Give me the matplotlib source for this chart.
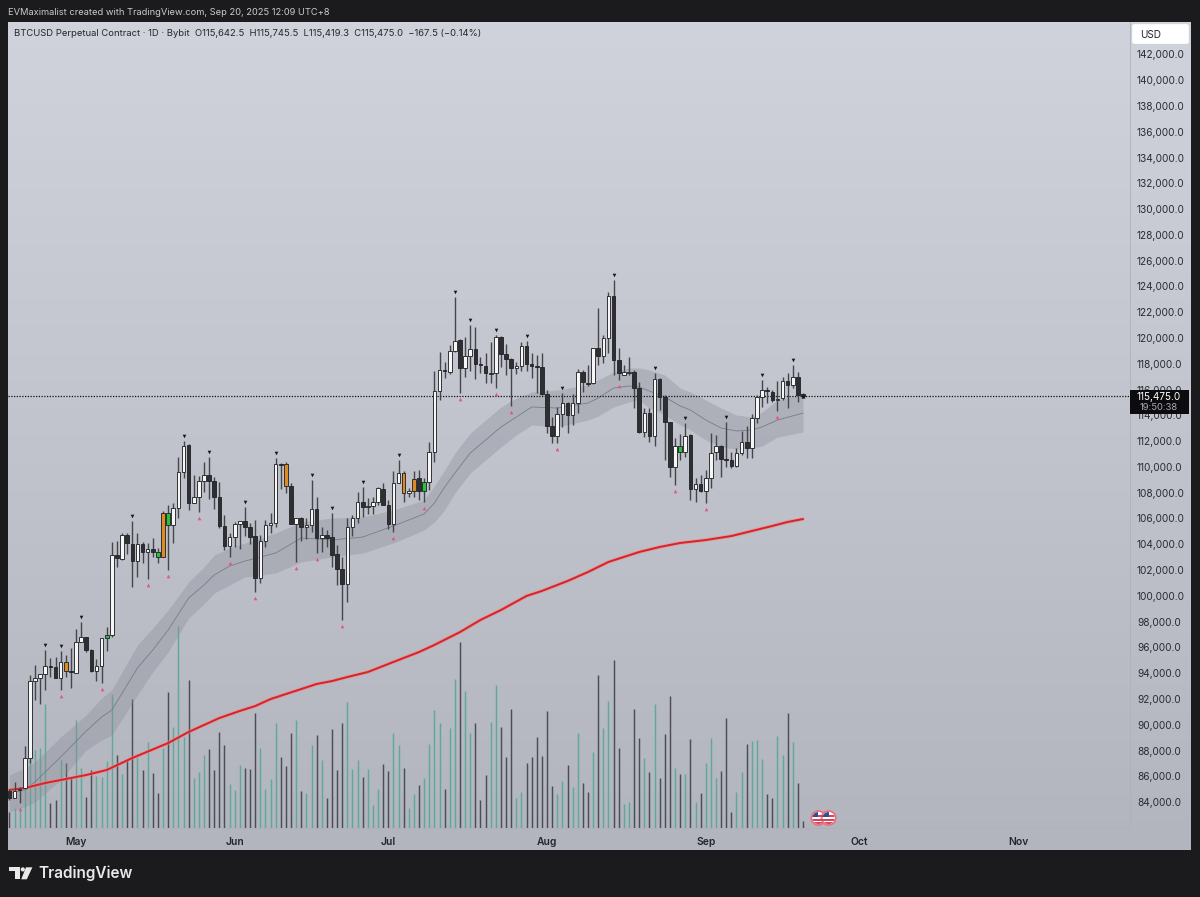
"""BTCUSD perpetual daily chart with volume, EMA band and 200 line (TradingView look)."""
import numpy as np
import matplotlib
matplotlib.use("Agg")
import matplotlib.pyplot as plt
from matplotlib.patches import Circle, Polygon, Rectangle, FancyBboxPatch

plt.rcParams["font.family"] = ["Inter", "Roboto", "DejaVu Sans"]

# day index 0 = May 1 2025, bars run Apr 18 .. Sep 20
first_day = -13

opens = [
    84860, 84350, 84950, 85070, 87400, 93400, 93650, 93900, 94590, 94500, 93650, 94900, 94170,
    94040, 96400, 96790, 95800, 94170, 94590, 96700, 96950, 103170, 102860, 104720, 104030, 102710,
    104000, 103430, 103660, 103380, 103040, 106400, 105500, 106790, 109590, 111700, 107230, 107700,
    108940, 109380, 108910, 107700, 105420, 103900, 104540, 105570, 105810, 105370, 104650, 101410,
    104280, 105500, 105680, 110200, 110200, 108550, 105570, 106020, 105320, 105500, 106720, 104460,
    104750, 104600, 103220, 102060, 100890, 105320, 106020, 107260, 106900, 106950, 107260, 108290,
    107050, 105580, 108780, 109510, 107950, 108130, 109120, 108130, 108860, 111190, 115920, 117530,
    117400, 119020, 119850, 117700, 118610, 119180, 117960, 117840, 117230, 117320, 120060, 118770,
    118350, 117650, 117860, 119380, 118010, 117840, 117730, 115660, 113180, 112430, 114110, 114950,
    114030, 114940, 117390, 116540, 116490, 119200, 118630, 120030, 123290, 118300, 117130, 117320,
    117390, 116150, 112740, 114160, 112400, 116820, 115400, 113460, 110020, 111630, 111140, 112480,
    108290, 108680, 108160, 109120, 111140, 111630, 110600, 110540, 110100, 111060, 111960, 111450,
    113820, 115460, 115970, 115840, 115200, 115330, 116700, 116360, 117000, 115642.5,
]
highs = [
    85000, 85540, 85200, 88380, 93860, 94640, 93950, 95800, 95150, 95230, 95720, 95420, 95930,
    97400, 97980, 96800, 95850, 95080, 96700, 97600, 104200, 104290, 104900, 104850, 105830, 104850,
    104200, 104130, 104460, 103690, 106610, 107050, 107230, 110750, 112040, 111760, 109380, 109300,
    110410, 110800, 109200, 108860, 106270, 104850, 105760, 105810, 106870, 105680, 105890, 104720,
    105890, 106400, 110670, 110330, 110410, 108730, 106020, 106100, 106070, 108990, 107700, 105370,
    105110, 106400, 103950, 103040, 106020, 106270, 108080, 108470, 107620, 107700, 108470, 108730,
    107440, 109710, 110540, 109690, 108340, 109710, 109770, 109120, 111960, 117470, 118890, 118170,
    119460, 123160, 119900, 120110, 121010, 120890, 118560, 118870, 119720, 120240, 120160, 119540,
    118430, 118170, 119720, 119800, 118820, 118690, 118820, 115970, 113900, 114680, 115700, 115050,
    115660, 117570, 117520, 117910, 119200, 122310, 120240, 123600, 124500, 119200, 117910, 118560,
    117520, 116620, 114550, 114550, 117260, 116880, 115580, 113460, 112220, 112560, 113440, 112530,
    109120, 109380, 109770, 112610, 112480, 111700, 113520, 111190, 111450, 112790, 113200, 114110,
    115580, 116750, 116230, 115970, 116700, 116960, 117260, 117910, 117390, 115745.5,
]
lows = [
    84200, 84300, 83900, 85000, 87000, 91920, 91600, 92700, 93730, 93600, 92700, 93730, 92880,
    94000, 96400, 95670, 94120, 93400, 93220, 95720, 96840, 102220, 102780, 103220, 100720, 101490,
    102530, 101330, 103040, 102530, 103040, 102010, 104130, 106020, 109120, 106660, 107180, 106530,
    108090, 107490, 106710, 105240, 103560, 102990, 103770, 103610, 104650, 104030, 100330, 101030,
    103820, 104850, 105320, 108270, 108000, 105570, 102650, 104280, 104390, 104980, 103300, 103430,
    103820, 102270, 100840, 98130, 99550, 104640, 105630, 106140, 106330, 106350, 107050, 107050,
    105160, 104980, 108730, 107260, 107700, 107700, 107440, 107310, 108210, 110410, 115200, 116880,
    117210, 118950, 115710, 117010, 117450, 116850, 117270, 116490, 116490, 116150, 117780, 117140,
    114760, 117190, 117450, 117450, 116880, 115710, 115580, 112610, 111890, 111840, 113120, 112610,
    113260, 114210, 115840, 116280, 116440, 117910, 118040, 118820, 117130, 116750, 117130, 117130,
    114600, 112610, 112350, 111960, 111630, 114420, 110540, 109250, 108600, 110540, 110800, 107440,
    107310, 108080, 107180, 108340, 110540, 109250, 110020, 109890, 110020, 110930, 110670, 110670,
    113380, 114680, 114990, 115070, 114370, 115200, 114600, 116100, 115070, 115419.3,
]
closes = [
    84350, 84870, 85050, 87400, 93400, 93600, 93900, 94590, 94500, 93650, 94900, 94170, 94100,
    96400, 96780, 95800, 94170, 94590, 96700, 96950, 103170, 102900, 104720, 104080, 102710, 104030,
    103430, 103660, 103380, 103040, 106400, 105500, 106790, 109590, 111650, 107230, 107700, 108940,
    109380, 108910, 107700, 105420, 103900, 104540, 105570, 105810, 105370, 104590, 101410, 104280,
    105500, 105680, 110200, 110150, 108550, 105570, 106020, 105370, 105500, 106720, 104460, 104750,
    104520, 103170, 102060, 100890, 105320, 106020, 107260, 106920, 106950, 107260, 108340, 107050,
    105580, 108780, 109510, 107950, 108130, 109070, 108130, 108860, 111190, 115920, 117520, 117470,
    119020, 119800, 117700, 118610, 119180, 117960, 117900, 117270, 117320, 120060, 118740, 118350,
    117650, 117860, 119380, 118010, 117840, 117740, 115660, 113180, 112430, 114110, 114940, 114030,
    114940, 117390, 116620, 116410, 119200, 118630, 120030, 123290, 118300, 117320, 117390, 117370,
    116150, 112740, 114160, 112400, 116800, 115400, 113460, 110020, 111630, 111140, 112430, 108290,
    108680, 108160, 109120, 111110, 111630, 110590, 110540, 110100, 111060, 111960, 111450, 113820,
    115460, 115970, 115900, 115200, 115250, 116700, 116360, 117000, 115580, 115475.0,
]
volumes = [
    49, 59, 59, 120, 204, 234, 239, 372, 74, 84, 204, 196, 149,
    324, 179, 94, 174, 156, 152, 202, 402, 219, 162, 204, 387, 214,
    174, 259, 164, 104, 239, 408, 304, 606, 274, 444, 151, 169,
    219, 236, 174, 288, 249, 132, 114, 189, 179, 176, 346, 239,
    117, 146, 316, 214, 187, 284, 324, 112, 106, 249, 279, 204,
    89, 296, 174, 316, 379, 176, 204, 154, 177, 69, 117, 192,
    172, 284, 249, 179, 59, 102, 129, 149, 252, 354, 314, 116,
    299, 447, 559, 412, 286, 314, 84, 159, 317, 429, 304, 212,
    356, 89, 107, 196, 214, 274, 217, 352, 127, 102, 142, 189,
    122, 284, 136, 109, 227, 459, 299, 381, 504, 239, 71, 79,
    356, 271, 209, 169, 371, 149, 281, 396, 181, 162, 162, 268,
    79, 106, 196, 269, 151, 172, 329, 49, 108, 168, 252, 262,
    264, 208, 102, 89, 276, 220, 344, 257, 134, 21,
]

orange_days = [-2, 17, 41, 64, 66]
green_days = [6, 16, 18, 68, 118]
swing_high_days = [-6, -3, 1, 11, 21, 26, 33, 39, 46, 50, 56, 63, 74, 77, 82, 88, 95, 105, 113, 119, 127, 134, 140]
swing_low_days = [-11, -3, 5, 14, 18, 24, 30, 35, 43, 47, 52, 62, 68, 75, 82, 85, 94, 106, 117, 123, 137]
event_days = [145, 147]

band_days = [-13, -10, -8, -3, 2, 5, 7, 12, 15, 18, 22, 25, 27, 30, 33, 39, 44, 50, 56, 62, 68, 70, 72,
             74, 77, 80, 83, 86, 89, 94, 100, 102, 105, 108, 110, 112, 115, 118, 120, 123, 126, 129, 132, 134, 137, 142]
band_mid = [84700, 84940, 85560, 87500, 89510, 90600, 91140, 94400, 95800, 97350, 99830, 100840, 101620, 102310, 102700,
            103320, 104490, 104330, 104560, 105420, 106350, 107200, 108440, 109530, 111080, 112090, 113100, 113870,
            114650, 114570, 114960, 115350, 116120, 116280, 116200, 115890, 115430, 114730, 114420, 113640, 113020,
            112790, 112870, 113100, 113640, 114180]
band_upper = [86100, 86640, 87110, 89050, 90760, 92070, 92700, 96190, 97500, 98900, 101070, 102240, 103170, 103710, 104100,
              104880, 105730, 106040, 106120, 106660, 107440, 108520, 109760, 111080, 112630, 113640, 114650, 115350,
              115810, 115970, 116360, 116750, 117370, 117680, 117680, 117520, 117130, 116120, 115810, 115190, 114570,
              114030, 113870, 114260, 115190, 115740]
band_lower = [83230, 83620, 84010, 85710, 88040, 88820, 89200, 92310, 94090, 95640, 98280, 99370, 100220, 100840, 101460,
              101770, 102630, 103010, 103320, 104100, 105110, 105730, 106660, 107980, 109530, 110540, 111550, 112480,
              113250, 113100, 113640, 113950, 114650, 115040, 115190, 114570, 114030, 113250, 112870, 112090, 111550,
              111390, 111470, 111620, 112320, 112710]

ema_days = [-13, -10, -6, -2, 2, 6, 11, 18, 22, 25, 28, 32, 35, 38, 41, 44, 47, 50, 53, 57, 62, 67, 70, 75, 79, 83,
            88, 91, 96, 100, 104, 110, 114, 118, 123, 128, 132, 136, 139, 142]
ema_values = [84940, 85090, 85480, 85790, 86100, 86490, 87420, 88580, 89440, 89980, 90520, 91070, 91450, 91990, 92380,
              92770, 93160, 93390, 93700, 94090, 94870, 95640, 96190, 97190, 98130, 98900, 99990, 100380, 101150, 101850,
              102630, 103400, 103790, 104100, 104330, 104640, 105030, 105420, 105730, 105960]

month_days = [0, 31, 61, 92, 123, 153, 184]
month_labels = ["May", "Jun", "Jul", "Aug", "Sep", "Oct", "Nov"]
price_ticks = list(range(84000, 142001, 2000))

assert len(opens) == len(highs) == len(lows) == len(closes) == len(volumes) == 156

days = np.arange(first_day, first_day + len(opens))
opens_a, highs_a, lows_a, closes_a = map(np.array, (opens, highs, lows, closes))
volumes_a = np.array(volumes)
up = closes_a >= opens_a

W, H = 1200, 897
DARK_BG = "#1b1b1d"


def px_rect(x0, y0, x1, y1):
    return [x0 / W, 1 - y1 / H, (x1 - x0) / W, (y1 - y0) / H]


fig = plt.figure(figsize=(W / 100, H / 100), dpi=100, facecolor=DARK_BG)

# panel with the soft vertical gradient, covers price scale and date scale too
ax_bg = fig.add_axes(px_rect(8, 22, 1191, 850), zorder=0)
grad_top = np.array([208, 211, 219])
grad_bottom = np.array([178, 181, 190])
grad = np.linspace(0, 1, 256)[:, None, None] * (grad_bottom - grad_top) + grad_top
ax_bg.imshow(grad / 255, aspect="auto", extent=(0, 1, 0, 1))
ax_bg.axis("off")

XLIM = (-13.28, 205.86)
YLIM = (81989, 144518)

ax_vol = fig.add_axes(px_rect(8, 22, 1130, 828), zorder=1)
ax_vol.patch.set_alpha(0)
ax_vol.axis("off")
ax_vol.set_xlim(*XLIM)
ax_vol.set_ylim(0, 2418)
ax_vol.vlines(days, 0, volumes_a, colors=np.where(up, "#5fa99b", "#4b4d57"), linewidth=1.05)

ax = fig.add_axes(px_rect(8, 22, 1130, 828), zorder=2)
ax.patch.set_alpha(0)
ax.set_xlim(*XLIM)
ax.set_ylim(*YLIM)

ax.fill_between(band_days, band_lower, band_upper, color="#8b8d98", alpha=0.36, linewidth=0, zorder=1)
ax.plot(band_days, band_mid, color="#7b7d86", linewidth=0.6, zorder=1.5)

ax.plot(ema_days, ema_values, color="#f08a8a", linewidth=2.8, alpha=0.55, zorder=2, solid_capstyle="round")
ax.plot(ema_days, ema_values, color="#d8232a", linewidth=1.45, zorder=2.1, solid_capstyle="round")

ax.axhline(closes[-1], color="#111111", linewidth=0.9, linestyle=(0, (1, 1.2)), zorder=2.5)

body_colors = []
for d, is_up in zip(days, up):
    if d in orange_days:
        body_colors.append("#e08a22")
    elif d in green_days:
        body_colors.append("#25c43a")
    else:
        body_colors.append("#f6f6f6" if is_up else "#2e2f33")

ax.vlines(days, lows_a, highs_a, colors="#45464b", linewidth=1.0, zorder=3)
ax.bar(days, np.abs(closes_a - opens_a), bottom=np.minimum(opens_a, closes_a), width=0.7,
       color=body_colors, edgecolor="#26272b", linewidth=0.65, zorder=4)

hi_idx = np.array(swing_high_days) - first_day
lo_idx = np.array(swing_low_days) - first_day
ax.plot(swing_high_days, highs_a[hi_idx] + 390, linestyle="none", marker="v", markersize=2.6,
        markeredgewidth=0, color="#15151a", zorder=5)
ax.plot(swing_low_days, lows_a[lo_idx] - 465, linestyle="none", marker="^", markersize=2.6,
        markeredgewidth=0, color="#e4557f", zorder=5)
# little dark arrow next to the last bar
ax.plot([days[-1]], [closes[-1] + 60], linestyle="none", marker="^", markersize=3,
        markeredgewidth=0, color="#15151a", zorder=5)

for spine in ("top", "left"):
    ax.spines[spine].set_visible(False)
ax.spines["right"].set_color("#aeb0ba")
ax.spines["right"].set_linewidth(0.6)
ax.spines["bottom"].set_color("#aeb0ba")
ax.spines["bottom"].set_linewidth(0.6)

ax.yaxis.tick_right()
ax.set_yticks(price_ticks)
ax.set_yticklabels([f"{p:,.1f}" for p in price_ticks])
ax.tick_params(axis="y", length=0, pad=5, labelsize=7.3, labelcolor="#2b2c31")
ax.set_xticks(month_days)
ax.set_xticklabels(month_labels, fontweight="semibold")
ax.tick_params(axis="x", length=0, pad=6.3, labelsize=7.4, labelcolor="#24252a")

# overlay in pixel coordinates for the chrome around the chart
ov = fig.add_axes([0, 0, 1, 1], zorder=5)
ov.set_xlim(0, W)
ov.set_ylim(H, 0)
ov.axis("off")
ov.patch.set_alpha(0)

ov.text(8, 12.5, "EVMaximalist created with TradingView.com, Sep 20, 2025 12:09 UTC+8",
        color="#c9cad0", fontsize=6.7, va="center")
ov.text(14, 33.5, "BTCUSD Perpetual Contract · 1D · Bybit", color="#26272c", fontsize=6.8, va="center")
ov.text(195, 33.5, "O115,642.5  H115,745.5  L115,419.3  C115,475.0  −167.5 (−0.14%)",
        color="#26272c", fontsize=6.8, va="center")

ov.add_patch(FancyBboxPatch((1132.5, 24.5), 56, 19, boxstyle="round,pad=0,rounding_size=2", fc="white", ec="white", lw=0.5))
ov.text(1140, 34.5, "USD", color="#26272c", fontsize=7.2, va="center")

# last price label
ov.add_patch(Rectangle((1130, 390), 59, 24, fc="#0c0c0e", ec="none"))
ov.text(1159, 396.8, f"{closes[-1]:,.1f}", color="white", fontsize=7.2, ha="center", va="center")
ov.text(1159, 408, "19:50:38", color="#a9aab0", fontsize=6.8, ha="center", va="center")


def day_to_px(d):
    return 8 + (d - XLIM[0]) / (XLIM[1] - XLIM[0]) * 1122


# news flags near the bottom of the chart
for d in event_days:
    cx, cy, r = day_to_px(d), 818, 7
    ring = Circle((cx, cy), r, fc="white", ec="#e8707f", lw=1.3, zorder=6)
    ov.add_patch(ring)
    clip = Circle((cx, cy), r - 1, transform=ov.transData)
    for dy in (-3, 1, 4):
        s = ov.add_patch(Rectangle((cx - r, cy + dy), 2 * r, 1.6, fc="#d8455a", ec="none", zorder=6.1))
        s.set_clip_path(clip)
    c = ov.add_patch(Rectangle((cx - r, cy - r), r, r - 0.5, fc="#33508f", ec="none", zorder=6.2))
    c.set_clip_path(clip)

# TradingView logo
ov.add_patch(Polygon([(9.3, 867.3), (20, 867.3), (20, 879.3), (14.7, 879.3), (14.7, 871), (9.3, 871)], fc="#e9e9ea", ec="none"))
ov.add_patch(Circle((22.8, 869.4), 2.1, fc="#e9e9ea", ec="none"))
ov.add_patch(Polygon([(26, 867.3), (32.4, 867.3), (26.8, 879.3), (21.2, 879.3)], fc="#e9e9ea", ec="none"))
ov.text(38, 873.5, "TradingView", color="#e9e9ea", fontsize=11, fontweight="semibold", va="center")

fig.savefig("out.png", dpi=100, facecolor=fig.get_facecolor())
